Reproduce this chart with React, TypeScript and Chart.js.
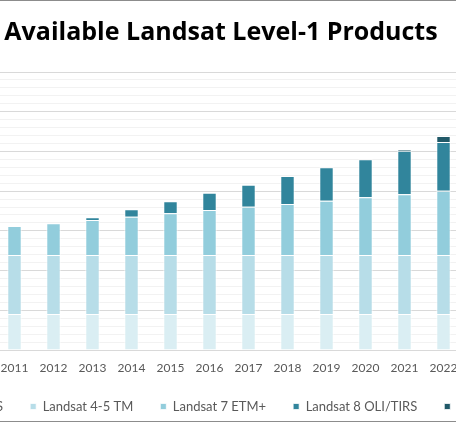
import React, { useEffect, useRef } from 'react';
import { Chart, registerables } from 'chart.js';

Chart.register(...registerables);

const years = ['2011', '2012', '2013', '2014', '2015', '2016', '2017', '2018', '2019', '2020', '2021', '2022'];
const landsatMSS = [4.53, 4.53, 4.53, 4.53, 4.53, 4.53, 4.53, 4.53, 4.53, 4.53, 4.53, 4.53];
const landsatTM = [7.43, 7.43, 7.43, 7.43, 7.43, 7.43, 7.43, 7.43, 7.43, 7.43, 7.43, 7.43];
const landsatETM = [3.65, 3.99, 4.41, 4.82, 5.25, 5.67, 6.08, 6.42, 6.84, 7.26, 7.64, 8.1];
const landsatOLI = [null, null, 0.33, 0.93, 1.51, 2.17, 2.77, 3.53, 4.2, 4.78, 5.49, 6.13];
const landsatOLI2 = [null, null, null, null, null, null, null, null, null, null, 0.21, 0.75];
const seriesNames = ['Landsat 1-5 MSS', 'Landsat 4-5 TM', 'Landsat 7 ETM+', 'Landsat 8 OLI/TIRS', 'Landsat 9 OLI-2'];
const seriesColors = ['#DAEEF3', '#B7DDE8', '#92CDDC', '#31859C', '#215968'];
const titleText = 'Available Landsat Level-1 Products';

const FONT = 'Lato, "Open Sans", sans-serif';
const TITLE_FONT = '"Open Sans", Lato, sans-serif';

export default function App() {
  const canvasRef = useRef<HTMLCanvasElement | null>(null);

  useEffect(() => {
    const canvas = canvasRef.current;
    if (!canvas) return;
    const values = [landsatMSS, landsatTM, landsatETM, landsatOLI, landsatOLI2];
    const chart = new Chart(canvas, {
      type: 'bar',
      data: {
        labels: years,
        datasets: values.map((v, i) => ({
          label: seriesNames[i],
          data: v,
          backgroundColor: seriesColors[i],
          borderColor: 'rgba(255,255,255,0.75)',
          borderWidth: 1,
          barPercentage: 0.37,
          categoryPercentage: 1,
        })),
      },
      options: {
        responsive: false,
        animation: false,
        maintainAspectRatio: false,
        layout: { padding: 0 },
        plugins: {
          tooltip: { enabled: false },
          title: {
            display: true,
            text: titleText,
            color: '#000000',
            font: { family: TITLE_FONT, size: 25, weight: 'bold', lineHeight: 1.2 },
            padding: { top: 17.4, bottom: 24.6 },
          },
          legend: {
            position: 'bottom',
            labels: {
              boxWidth: 6,
              boxHeight: 6,
              padding: 27,
              color: '#595959',
              font: { family: FONT, size: 13 },
            },
          },
        },
        scales: {
          x: {
            stacked: true,
            grid: { display: false, drawTicks: false },
            border: { display: true, color: '#d9d9d9' },
            ticks: {
              color: '#595959',
              padding: 12,
              font: { family: FONT, size: 12, lineHeight: 1 },
              maxRotation: 0,
            },
            afterFit: (s: any) => { s.height = 23; },
          },
          y: {
            stacked: true,
            min: 0,
            max: 35,
            ticks: { display: false, stepSize: 1 },
            border: { display: false },
            grid: {
              drawTicks: false,
              color: (ctx: any) => (ctx.tick && ctx.tick.value % 5 === 0 ? '#d9d9d9' : '#f2f2f2'),
            },
            afterFit: (s: any) => { s.width = 139; },
          },
          yRight: {
            position: 'right',
            display: true,
            ticks: { display: false },
            border: { display: false },
            grid: { display: false, drawTicks: false },
            afterFit: (s: any) => { s.width = 123; },
          },
        },
      },
    });
    return () => chart.destroy();
  }, []);

  return (
    <div style={{ position: 'fixed', left: 0, top: 0, width: 456, height: 426, overflow: 'hidden', background: '#ffffff' }}>
      <canvas
        ref={canvasRef}
        width={730}
        height={423}
        style={{ position: 'absolute', left: -144, top: 0, width: 730, height: 423 }}
      />
      <div style={{ position: 'absolute', left: 0, top: 0, width: 456, height: 1, background: '#8c8c8c' }} />
      <div style={{ position: 'absolute', left: 0, top: 421, width: 456, height: 1, background: '#8c8c8c' }} />
    </div>
  );
}
